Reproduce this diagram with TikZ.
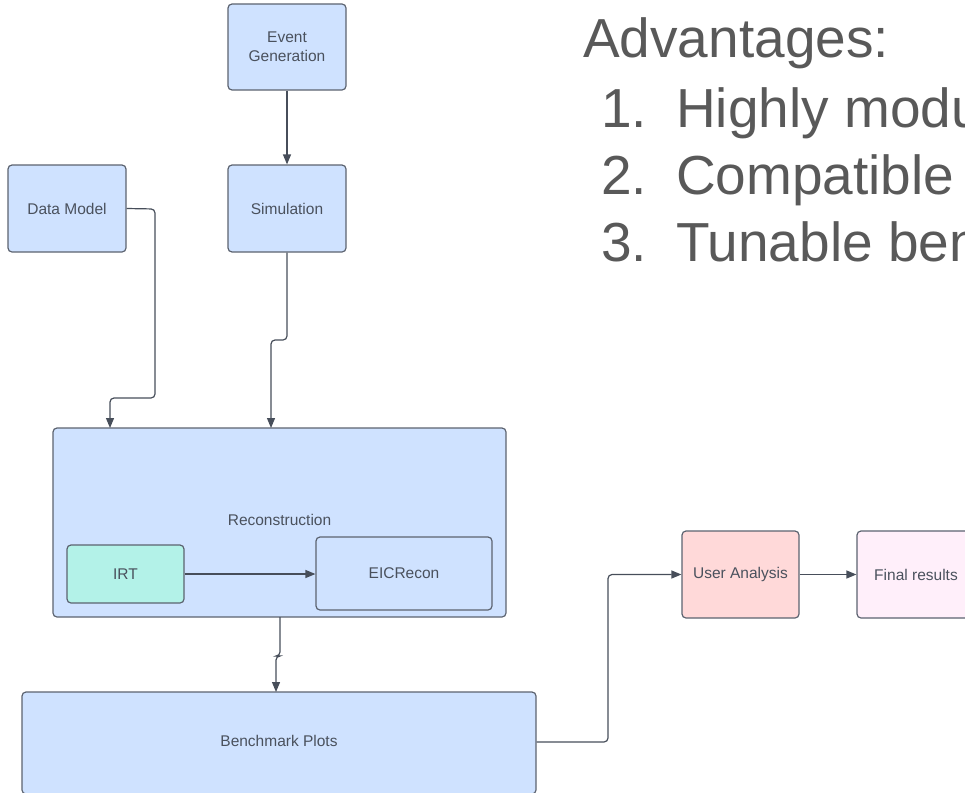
\documentclass[tikz,border=0pt]{standalone}
\usepackage{fontspec}
\setmainfont{Liberation Sans}
\usetikzlibrary{arrows.meta}

\definecolor{boxblue}{HTML}{CFE2FF}
\definecolor{irtgreen}{HTML}{B3F2E8}
\definecolor{userpink}{HTML}{FFD9D9}
\definecolor{finalpink}{HTML}{FFEFFA}
\definecolor{edgegrey}{HTML}{5C6370}
\definecolor{linegrey}{HTML}{474E5A}
\definecolor{labelgrey}{HTML}{4A515D}
\definecolor{listgrey}{HTML}{595959}

\tikzset{
  flowbox/.style={draw=edgegrey, line width=1.2pt, rounded corners=4pt,
    fill=boxblue, text=labelgrey, align=center, inner sep=0pt,
    font=\fontsize{15.5}{19}\selectfont},
  boxlabel/.style={text=labelgrey, inner sep=0pt, font=\fontsize{15.5}{19}\selectfont},
  link/.style={draw=linegrey, line width=1.2pt, rounded corners=4pt,
    -{Triangle[length=10pt,width=8pt]}},
  listtext/.style={anchor=base west, inner sep=0pt, text=listgrey,
    font=\fontsize{55}{66}\selectfont}
}

\begin{document}
\begin{tikzpicture}[x=1pt,y=-1pt]
\useasboundingbox (0,0) rectangle (965,792);
\clip (0,0) rectangle (965,792);

% pipeline boxes
\node[flowbox, minimum width=118pt, minimum height=86pt] (ev) at (287,47) {Event\\Generation};
\node[flowbox, minimum width=118pt, minimum height=87pt] (sim) at (287,208.5) {Simulation};
\node[flowbox, minimum width=118pt, minimum height=87pt] (dm) at (67,208.5) {Data Model};
\node[flowbox, minimum width=453pt, minimum height=189pt] (rec) at (279.5,522.5) {};
\node[boxlabel] (reclabel) at (279.5,520) {Reconstruction};
\node[flowbox, fill=irtgreen, minimum width=117pt, minimum height=58pt] (irt) at (125.5,574) {IRT};
\node[flowbox, minimum width=176pt, minimum height=73pt] (eic) at (404,573.5) {EICRecon};
\node[flowbox, minimum width=514pt, minimum height=102pt] (bench) at (279,743) {};
\node[boxlabel] (benchlabel) at (279,741) {Benchmark Plots};
\node[flowbox, fill=userpink, minimum width=117pt, minimum height=87pt] (ua) at (740.5,574.5) {User Analysis};
\node[flowbox, fill=finalpink, minimum width=118pt, minimum height=87pt] (fr) at (916,574.5) {Final results};

% routing points
\coordinate (dmin) at (110,428);
\coordinate (simin) at (271,428);
\coordinate (benchin) at (276,692);

% connectors
\draw[link] (ev) -- (sim);
\draw[link] (dm.east) -- (155,209) -- (155,398) -- (110,398) -- (dmin);
\draw[link] (sim.south) -- (287,340) -- (271,340) -- (simin);
\draw[link] (280,617) -- (280,656) -- (276,656) -- (benchin);
\draw[link] (irt.east) -- (irt.east -| eic.west);
\draw[link] (bench.east |- 0,742) -- (608,742) -- (608,574.5) -- (ua.west);
\draw[link] (ua.east) -- (fr.west);

% list of advantages
\node[listtext] (adv) at (583,58) {Advantages:};
\node[listtext] (n1) at (601,127) {1.};
\node[listtext] (t1) at (676,127) {Highly modular};
\node[listtext] (n2) at (601,194) {2.};
\node[listtext] (t2) at (676,194) {Compatible with};
\node[listtext] (n3) at (601,261) {3.};
\node[listtext] (t3) at (676,261) {Tunable benchmarks};
\end{tikzpicture}
\end{document}
